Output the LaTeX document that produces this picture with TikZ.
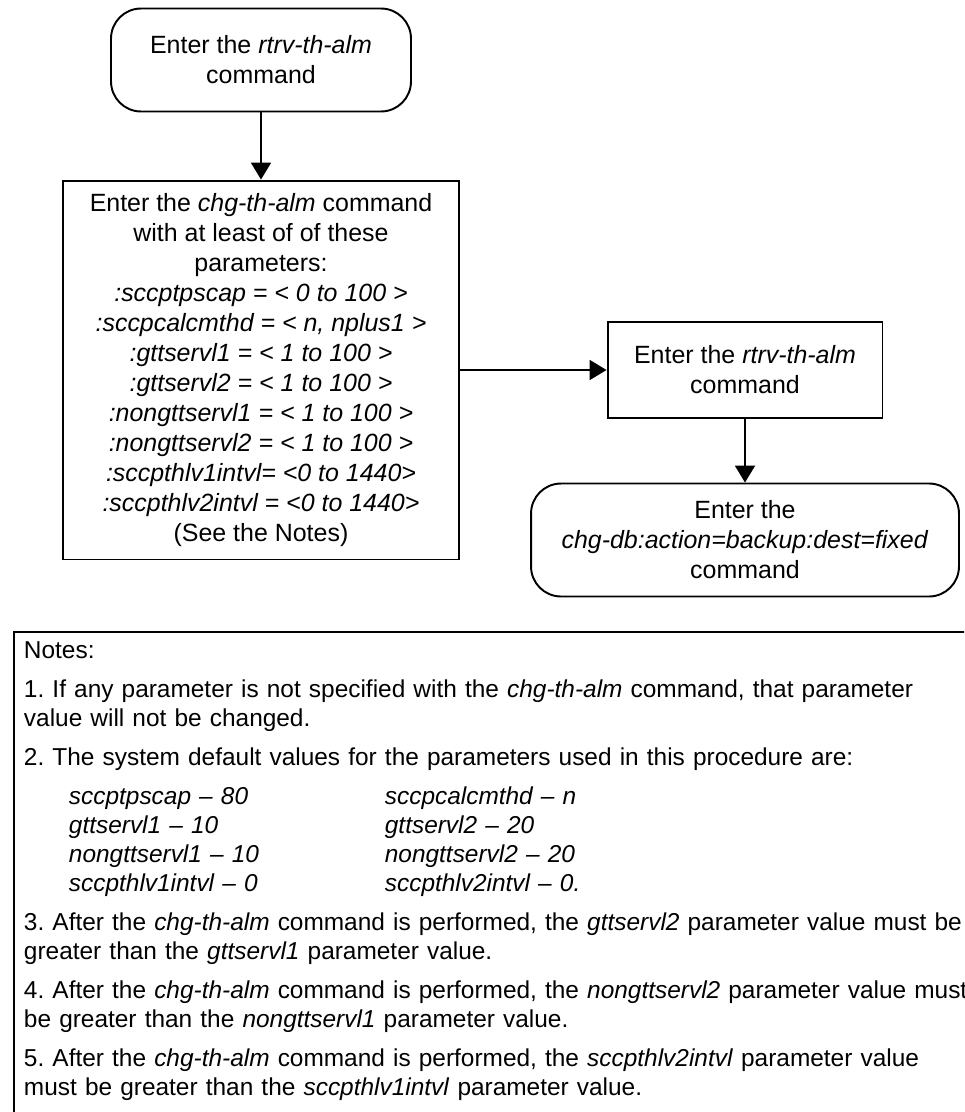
\documentclass[tikz,border=0pt]{standalone}
\usepackage{fontspec}
\setmainfont{Liberation Sans}
\usetikzlibrary{arrows.meta}
\frenchspacing

\begin{document}
\begin{tikzpicture}[x=0.02cm,y=-0.02cm,line width=1.1pt,
	every node/.style={font=\fontsize{14.2}{17.1}\selectfont,align=center,inner sep=0pt},
	rbox/.style={draw,rounded corners=0.6cm},
	sbox/.style={draw}]
	\useasboundingbox (0,0) rectangle (964,1112);
	\clip (0,0) rectangle (964,1112);
	\node[rbox,minimum width=6cm,minimum height=2.06cm] (N1) at (261,60) {Enter the \textit{rtrv-th-alm}\\command};
	\node[sbox,minimum width=7.92cm,minimum height=7.58cm] (N2) at (261,370) {Enter the \textit{chg-th-alm} command\\with at least of of these\\parameters:\\
		\textit{:sccptpscap = < 0 to 100 >}\\\textit{:sccpcalcmthd = < n, nplus1 >}\\
		\textit{:gttservl1 = < 1 to 100 >}\\\textit{:gttservl2 = < 1 to 100 >}\\
		\textit{:nongttservl1 = < 1 to 100 >}\\\textit{:nongttservl2 = < 1 to 100 >}\\
		\textit{:sccpthlv1intvl= <0 to 1440>}\\\textit{:sccpthlv2intvl = <0 to 1440>}\\(See the Notes)};
	\node[sbox,minimum width=5.5cm,minimum height=1.92cm] (N3) at (745,370) {Enter the \textit{rtrv-th-alm}\\command};
	\node[rbox,minimum width=8.56cm,minimum height=2.26cm] (N4) at (745,540) {Enter the\\\textit{chg-db:action=backup:dest=fixed}\\command};
	\node[draw,anchor=north west,align=left,text width=19.6cm,text depth=11cm,
	      inner xsep=0.2cm,inner ysep=0.2cm,font=\fontsize{13.9}{16.5}\selectfont] (N5) at (13,631) {Notes:\\[5.7pt]
		1. If any parameter is not specified with the \textit{chg-th-alm} command, that parameter\\value will not be changed.\\[5.7pt]
		2. The system default values for the parameters used in this procedure are:\\[5.7pt]
		\hspace*{0.9cm}\makebox[6.32cm][l]{\textit{sccptpscap – 80}}\textit{sccpcalcmthd – n}\\
		\hspace*{0.9cm}\makebox[6.32cm][l]{\textit{gttservl1 – 10}}\textit{gttservl2 – 20}\\
		\hspace*{0.9cm}\makebox[6.32cm][l]{\textit{nongttservl1 – 10}}\textit{nongttservl2 – 20}\\
		\hspace*{0.9cm}\makebox[6.32cm][l]{\textit{sccpthlv1intvl – 0}}\textit{sccpthlv2intvl – 0.}\\[5.7pt]
		3. After the \textit{chg-th-alm} command is performed, the \textit{gttservl2} parameter value must be\\greater than the \textit{gttservl1} parameter value.\\[5.7pt]
		4. After the \textit{chg-th-alm} command is performed, the \textit{nongttservl2} parameter value must\\be greater than the \textit{nongttservl1} parameter value.\\[5.7pt]
		5. After the \textit{chg-th-alm} command is performed, the \textit{sccpthlv2intvl} parameter value\\must be greater than the \textit{sccpthlv1intvl} parameter value.};
	\path[-{Triangle[length=0.34cm,width=0.4cm]}]
	     (N1) edge (N2)  (N2) edge (N3)
	     (N3) edge (N4);
\end{tikzpicture}
\end{document}
